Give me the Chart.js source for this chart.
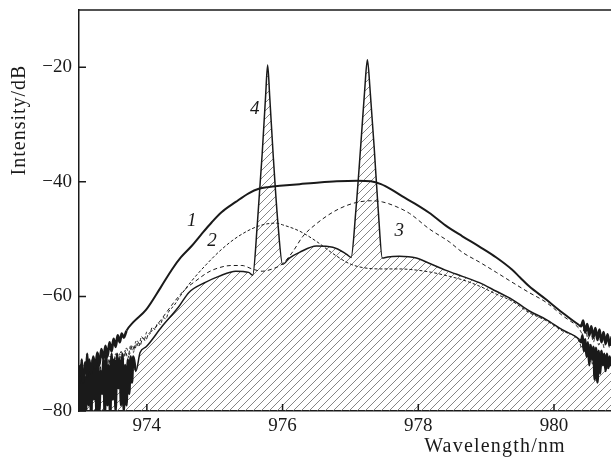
<!DOCTYPE html>
<html>
<head>
<meta charset="utf-8">
<script src="https://cdn.jsdelivr.net/npm/chart.js"></script>
<style>
  body { margin: 0; background: #fff; }
</style>
</head>
<body>
<canvas id="spectrum" width="611" height="461"></canvas>
<script>
// curve 1 - solid thick
const wl1 = [973.00,973.03,973.06,973.09,973.12,973.15,973.18,973.21,973.24,973.27,973.30,973.33,973.36,973.39,973.42,973.45,973.48,973.51,973.54,973.57,973.60,973.63,973.66,973.70,973.80,973.99,974.20,974.37,974.50,974.66,974.80,974.96,975.10,975.31,975.50,975.65,975.80,975.96,976.25,976.54,976.80,977.10,977.30,977.45,977.60,977.76,977.95,978.16,978.40,978.65,978.90,979.15,979.38,979.50,979.63,979.88,980.12,980.37,980.40,980.43,980.46,980.49,980.52,980.55,980.58,980.61,980.64,980.67,980.70,980.73,980.76,980.79,980.82,980.85];
const db1 = [-74,-72,-75,-71.5,-74,-71,-73.5,-70.5,-72.5,-69.8,-72,-69.2,-71,-68.6,-70.5,-68,-69.6,-67.4,-68.8,-66.8,-68,-66.5,-67.2,-66,-64.5,-62.3,-58.5,-55.3,-53.2,-51.2,-49.2,-47,-45.3,-43.5,-42,-41.2,-40.9,-40.7,-40.4,-40.1,-39.9,-39.8,-39.9,-40.4,-41.3,-42.5,-43.8,-45.4,-47.6,-49.5,-51.3,-53.2,-55.3,-56.7,-58.2,-60.5,-62.8,-65,-65.2,-64.2,-66.3,-64.8,-66.8,-65.2,-67.2,-65.5,-67.6,-65.8,-68,-66.2,-68.3,-66.6,-68.5,-67];

// curve 2 - fine dashes, peak near 975.9
const wl2 = [973.00,973.04,973.08,973.12,973.16,973.20,973.24,973.28,973.32,973.36,973.40,973.44,973.48,973.52,973.56,973.60,973.64,973.68,973.72,973.76,973.80,973.84,973.88,973.92,973.96,974.00,974.04,974.08,974.12,974.16,974.20,974.24,974.28,974.32,974.40,974.50,974.66,974.87,975.10,975.35,975.65,975.90,976.00,976.25,976.50,976.74,976.99,977.20,977.47,977.72,977.97,978.20,978.46,978.65,978.90,979.15,979.38,979.63,979.88,980.12,980.37,980.41,980.45,980.49,980.53,980.57,980.61,980.65,980.69,980.73,980.77,980.81,980.85];
const db2 = [-76,-72.5,-77,-73,-76,-72.2,-75.5,-72,-75,-71.5,-74,-71,-73.5,-70.5,-72.5,-70,-71.8,-69.4,-70.8,-68.6,-69.8,-67.8,-68.8,-67,-67.6,-66.2,-66.6,-65.4,-65.8,-64.6,-64.9,-63.7,-63.9,-62.7,-61.6,-59.8,-57.3,-54.5,-51.8,-49.5,-47.7,-47.2,-47.5,-48.6,-50.4,-52.5,-54.3,-55,-55.2,-55.2,-55.4,-55.8,-56.5,-57.1,-58.2,-59.6,-60.8,-62.8,-64.2,-66,-67.8,-69,-67.6,-70.5,-68.3,-72,-68.8,-73,-69.5,-72,-70,-72.5,-70.5];

// curve 3 - dashes, peak near 977.3
const wl3 = [973.02,973.06,973.10,973.14,973.18,973.22,973.26,973.30,973.34,973.38,973.42,973.46,973.50,973.54,973.58,973.62,973.66,973.70,973.74,973.78,973.82,973.86,973.90,973.94,973.98,974.02,974.10,974.20,974.30,974.40,974.56,974.72,974.90,975.06,975.25,975.40,975.55,975.70,975.85,976.00,976.15,976.30,976.50,976.74,976.95,977.13,977.30,977.47,977.67,977.87,978.16,978.46,978.65,978.90,979.15,979.38,979.63,979.88,980.12,980.37,980.42,980.46,980.50,980.54,980.58,980.62,980.66,980.70,980.74,980.78,980.82,980.85];
const db3 = [-75,-72,-76,-72.8,-75.2,-71.8,-74.6,-71.4,-74,-71,-73.2,-70.4,-72.6,-70,-71.6,-69.6,-71,-69,-70.2,-68.4,-69.4,-67.8,-68.6,-67.2,-67.8,-66.6,-65.8,-64.2,-62.6,-61,-58.8,-57.3,-55.8,-55,-54.6,-54.6,-55.2,-55.6,-55.2,-54.3,-52.2,-49.5,-47.3,-45.3,-44.1,-43.5,-43.3,-43.5,-44.3,-45.5,-48.2,-50.5,-52.3,-54,-55.8,-57.5,-59.3,-61,-63.3,-65.6,-66.5,-65,-67.5,-66,-68,-66.3,-68.5,-66.8,-69,-67.2,-69,-68];

// curve 4 - two laser lines, hatched
const wl4 = [973.00,973.02,973.04,973.06,973.08,973.10,973.12,973.14,973.16,973.18,973.20,973.22,973.24,973.26,973.28,973.30,973.32,973.34,973.36,973.38,973.40,973.42,973.44,973.46,973.48,973.50,973.52,973.54,973.56,973.58,973.60,973.62,973.64,973.66,973.68,973.70,973.72,973.74,973.76,973.78,973.80,973.84,973.90,973.99,974.22,974.47,974.62,974.87,975.06,975.31,975.50,975.56,975.63,975.70,975.75,975.78,975.81,975.86,975.93,976.00,976.10,976.25,976.50,976.74,976.94,977.01,977.08,977.15,977.21,977.25,977.29,977.35,977.41,977.47,977.55,977.72,977.97,978.16,978.40,978.65,978.90,979.15,979.38,979.63,979.88,980.12,980.37,980.40,980.42,980.44,980.46,980.48,980.50,980.52,980.54,980.56,980.58,980.60,980.62,980.64,980.66,980.68,980.70,980.72,980.74,980.76,980.78,980.80,980.82,980.84,980.86];
const db4 = [-72,-81,-71,-80,-74,-81,-70,-79,-73,-81,-71,-78,-72,-81,-70,-80,-73,-77,-71,-81,-70,-79,-72,-81,-70,-78,-71,-80,-70,-76,-71,-79,-70,-80,-72,-79,-71,-77,-70.5,-75,-70.5,-73,-69.8,-68.8,-65.3,-61.8,-59.3,-57.5,-56.5,-55.6,-55.8,-56.3,-47,-35,-25,-19.6,-25,-35,-47,-54.4,-53.3,-52.3,-51.2,-51.4,-52.6,-53.2,-45,-34,-24,-18.7,-24,-34,-45,-53.3,-53.1,-53,-53.3,-54.2,-55.4,-56.5,-57.6,-59.1,-60.5,-62.5,-64,-65.8,-67.5,-68,-66.8,-69.5,-67.5,-70.5,-68,-72,-68.5,-71,-68.8,-74.5,-69,-75,-69.5,-73.5,-69.5,-72,-70,-73,-70,-72.5,-70.5,-72,-71];

const xTicks = [974, 976, 978, 980];
const yTicks = [-80, -60, -40, -20];

// curve numbers written on the plot
const curveNames = ['1', '2', '3', '4'];
const nameWl = [974.66, 974.96, 977.72, 975.59];
const nameDb = [-46.8, -50.4, -48.6, -27.2];

const ink = '#1a1a1a';
const canvas = document.getElementById('spectrum');

function hatchPattern() {
  const c = document.createElement('canvas');
  c.width = 8; c.height = 8;
  const g = c.getContext('2d');
  g.strokeStyle = '#666';
  g.lineWidth = 0.8;
  g.beginPath();
  g.moveTo(0, 8); g.lineTo(8, 0);
  g.moveTo(-1, 1); g.lineTo(1, -1);
  g.moveTo(7, 9); g.lineTo(9, 7);
  g.stroke();
  return canvas.getContext('2d').createPattern(c, 'repeat');
}

const pts = (wl, db) => wl.map((w, i) => ({ x: w, y: db[i] }));

// thicker stroke where the trace is noisy (both ends)
const noisy = (lo, hi, w) => ({
  borderWidth: c => (c.p0.parsed.x < lo || c.p1.parsed.x > hi) ? w : undefined
});

const decor = {
  id: 'decor',
  afterDraw(chart) {
    const { ctx, chartArea: a, scales: { x, y } } = chart;
    ctx.save();
    ctx.strokeStyle = ink;
    ctx.lineWidth = 1.5;
    ctx.beginPath();
    ctx.moveTo(a.left, a.top);
    ctx.lineTo(a.right, a.top);
    xTicks.forEach(v => {
      const px = x.getPixelForValue(v);
      ctx.moveTo(px, a.bottom);
      ctx.lineTo(px, a.bottom - 7);
    });
    yTicks.forEach(v => {
      const py = y.getPixelForValue(v);
      ctx.moveTo(a.left, py);
      ctx.lineTo(a.left + 7, py);
    });
    ctx.stroke();

    ctx.fillStyle = ink;
    ctx.textAlign = 'center';
    ctx.textBaseline = 'middle';
    ctx.font = 'italic 19px "Liberation Serif"';
    curveNames.forEach((t, i) => {
      ctx.fillText(t, x.getPixelForValue(nameWl[i]), y.getPixelForValue(nameDb[i]));
    });

    ctx.font = '20px "Liberation Serif"';
    ctx.letterSpacing = '1.2px';
    ctx.fillText('Wavelength/nm', 495, 447);
    ctx.letterSpacing = '1px';
    ctx.translate(20, 120);
    ctx.rotate(-Math.PI / 2);
    ctx.fillText('Intensity/dB', 0, 0);
    ctx.restore();
  }
};

new Chart(canvas, {
  type: 'line',
  data: {
    datasets: [
      { data: pts(wl1, db1), borderColor: ink, borderWidth: 2, cubicInterpolationMode: 'monotone',
        segment: noisy(973.68, 980.38, 2.6) },
      { data: pts(wl2, db2), borderColor: ink, borderWidth: 1, borderDash: [3, 2], cubicInterpolationMode: 'monotone' },
      { data: pts(wl3, db3), borderColor: ink, borderWidth: 1, borderDash: [4, 3], cubicInterpolationMode: 'monotone' },
      { data: pts(wl4, db4), borderColor: ink, borderWidth: 1.5, cubicInterpolationMode: 'monotone',
        segment: noisy(973.82, 980.38, 2.6),
        fill: 'start', backgroundColor: hatchPattern() }
    ]
  },
  options: {
    responsive: false,
    animation: false,
    events: [],
    elements: { point: { radius: 0 } },
    datasets: { line: { clip: 0 } },
    layout: { padding: { top: 10, right: 0, left: 0, bottom: 0 } },
    plugins: { legend: { display: false }, tooltip: { enabled: false } },
    scales: {
      x: {
        type: 'linear',
        min: 973.0,
        max: 980.84,
        afterBuildTicks: s => { s.ticks = xTicks.map(v => ({ value: v })); },
        afterFit: s => { s.height = 50; s.paddingLeft = 0; s.paddingRight = 0; },
        grid: { display: false, drawTicks: false },
        border: { display: true, color: ink, width: 1.5 },
        ticks: { color: ink, padding: 4, font: { family: 'Liberation Serif', size: 19 } }
      },
      y: {
        min: -80,
        max: -10,
        afterBuildTicks: s => { s.ticks = yTicks.map(v => ({ value: v })); },
        afterFit: s => { s.width = 79; s.paddingTop = 0; s.paddingBottom = 0; },
        grid: { display: false, drawTicks: false },
        border: { display: true, color: ink, width: 1.5 },
        ticks: {
          color: ink, padding: 7, font: { family: 'Liberation Serif', size: 19 },
          callback: v => String(v).replace('-', '\u2212')
        }
      }
    }
  },
  plugins: [decor]
});
</script>
</body>
</html>
